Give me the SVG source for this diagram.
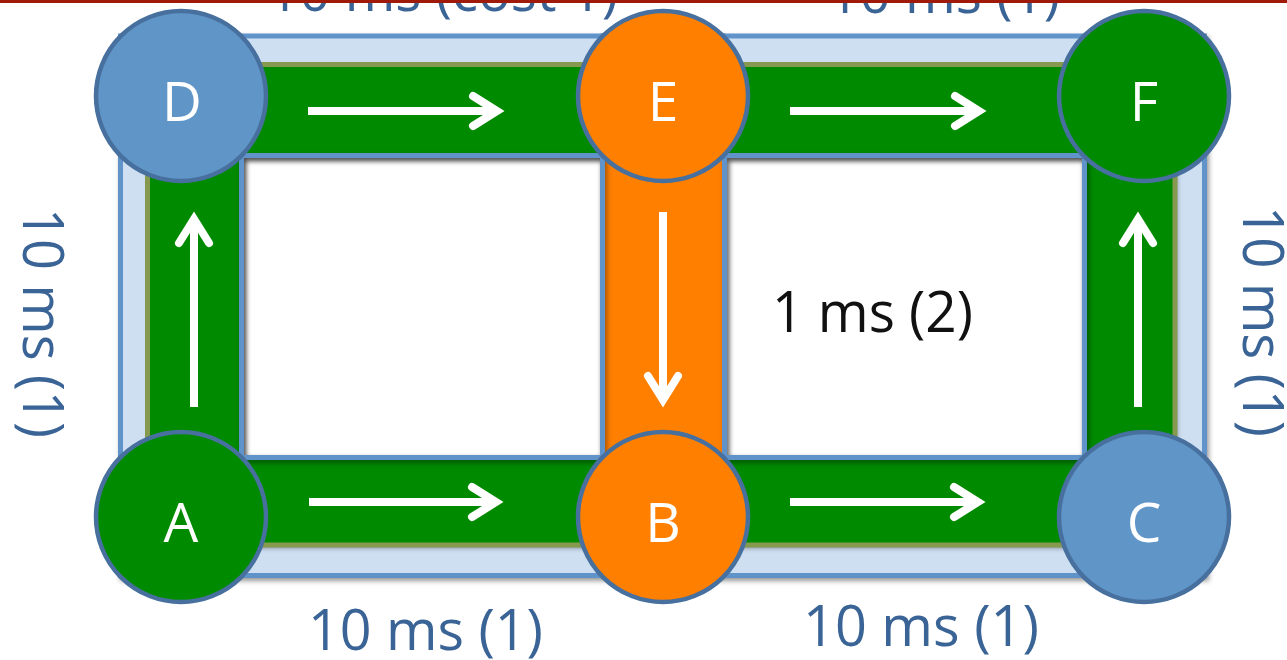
<svg xmlns="http://www.w3.org/2000/svg" width="1287" height="660" viewBox="0 0 1287 660">
  <style>
    .frame { fill: #CEDFF2; stroke: #5F93CA; stroke-width: 5; fill-rule: evenodd; }
    .cell { fill: none; stroke: #5F93CA; stroke-width: 5; }
    .node { stroke: #47709E; stroke-width: 4.5; }
    .letter { font-family: "Open Sans", "Liberation Sans", sans-serif; font-size: 55px; fill: #FFFFFF; text-anchor: middle; }
    .lbl { font-family: "Open Sans", "Liberation Sans", sans-serif; font-size: 57px; fill: #3B6496; }
    .shaft { stroke: #FFFFFF; stroke-width: 8; stroke-linecap: butt; fill: none; }
    .head { stroke: #FFFFFF; stroke-width: 8; stroke-linecap: round; stroke-linejoin: miter; fill: none; }
  </style>
  <defs>
    <filter id="shadow" x="-5%" y="-5%" width="110%" height="115%">
      <feDropShadow dx="2" dy="3" stdDeviation="2.5" flood-color="#000000" flood-opacity="0.4"/>
    </filter>
  </defs>

  <rect width="1287" height="660" fill="#FFFFFF"/>

  <!-- light blue link frames -->
  <g id="frames" filter="url(#shadow)">
    <path class="frame" d="M120.5,36 H723 V575.5 H120.5 Z M241.5,155.5 V457.5 H602.5 V155.5 Z"/>
    <path class="frame" d="M602.5,36 H1204.5 V575.5 H602.5 Z M724.5,155.5 V457.5 H1084.5 V155.5 Z"/>
  </g>

  <!-- connectors: coloured links and direction arrows -->
  <g id="connectors">
    <g filter="url(#shadow)">
      <path d="M147.5,64.5 H1175 V545 H147.5 Z M241.5,155.5 V457.5 H1084.5 V155.5 Z" fill="#008A00" fill-rule="evenodd"/>
    </g>
    <rect x="147.5" y="64.5" width="1027.5" height="480.5" fill="none" stroke="#87984F" stroke-width="5"/>
    <rect x="602.5" y="96" width="122" height="421" fill="#FF7F00"/>
    <g filter="url(#shadow)">
      <rect class="cell" x="241.5" y="155.5" width="361" height="302"/>
      <rect class="cell" x="724.5" y="155.5" width="360" height="302"/>
    </g>

    <!-- D -> E -->
    <line class="shaft" x1="308" y1="111" x2="497" y2="111"/>
    <polyline class="head" points="473,96 497,111 473,126"/>
    <!-- E -> F -->
    <line class="shaft" x1="790" y1="111" x2="979" y2="111"/>
    <polyline class="head" points="955,96 979,111 955,126"/>
    <!-- A -> B -->
    <line class="shaft" x1="309" y1="502" x2="496" y2="502"/>
    <polyline class="head" points="472,487 496,502 472,517"/>
    <!-- B -> C -->
    <line class="shaft" x1="790" y1="502" x2="978" y2="502"/>
    <polyline class="head" points="954,487 978,502 954,517"/>
    <!-- A -> D -->
    <line class="shaft" x1="194" y1="407" x2="194" y2="219"/>
    <polyline class="head" points="179,243 194,219 209,243"/>
    <!-- E -> B -->
    <line class="shaft" x1="663" y1="212" x2="663" y2="400"/>
    <polyline class="head" points="648,376 663,400 678,376"/>
    <!-- C -> F -->
    <line class="shaft" x1="1138" y1="407" x2="1138" y2="219"/>
    <polyline class="head" points="1123,243 1138,219 1153,243"/>
  </g>

  <!-- nodes -->
  <g id="node-D">
    <circle class="node" cx="181" cy="96" r="85" fill="#6095C8"/>
    <text class="letter" x="182" y="121">D</text>
  </g>
  <g id="node-E">
    <circle class="node" cx="663" cy="96" r="85" fill="#FF7F00"/>
    <text class="letter" x="663" y="121">E</text>
  </g>
  <g id="node-F">
    <circle class="node" cx="1144" cy="96" r="85" fill="#008A00"/>
    <text class="letter" x="1144" y="121">F</text>
  </g>
  <g id="node-A">
    <circle class="node" cx="181" cy="517" r="85" fill="#008A00"/>
    <text class="letter" x="181" y="542">A</text>
  </g>
  <g id="node-B">
    <circle class="node" cx="663" cy="517" r="85" fill="#FF7F00"/>
    <text class="letter" x="663" y="542">B</text>
  </g>
  <g id="node-C">
    <circle class="node" cx="1144" cy="517" r="85" fill="#6095C8"/>
    <text class="letter" x="1144" y="542">C</text>
  </g>

  <!-- link labels -->
  <g id="labels">
    <text class="lbl" x="268" y="11" textLength="350" lengthAdjust="spacingAndGlyphs">10 ms (cost 1)</text>
    <text class="lbl" x="828" y="13" textLength="232" lengthAdjust="spacingAndGlyphs">10 ms (1)</text>
    <text class="lbl" x="308" y="650" textLength="235" lengthAdjust="spacingAndGlyphs">10 ms (1)</text>
    <text class="lbl" x="803" y="646" textLength="236" lengthAdjust="spacingAndGlyphs">10 ms (1)</text>
    <text class="lbl" transform="translate(23,208) rotate(90)" x="0" y="0" textLength="230" lengthAdjust="spacingAndGlyphs">10 ms (1)</text>
    <text class="lbl" transform="translate(1243,206) rotate(90)" x="0" y="0" textLength="231" lengthAdjust="spacingAndGlyphs">10 ms (1)</text>
    <text x="772" y="332" font-family="'Open Sans', 'Liberation Sans', sans-serif" font-size="56" fill="#111111" textLength="201" lengthAdjust="spacingAndGlyphs">1 ms (2)</text>
  </g>

  <!-- top bar -->
  <rect x="0" y="0" width="1287" height="3" fill="#A01A0A"/>
</svg>
